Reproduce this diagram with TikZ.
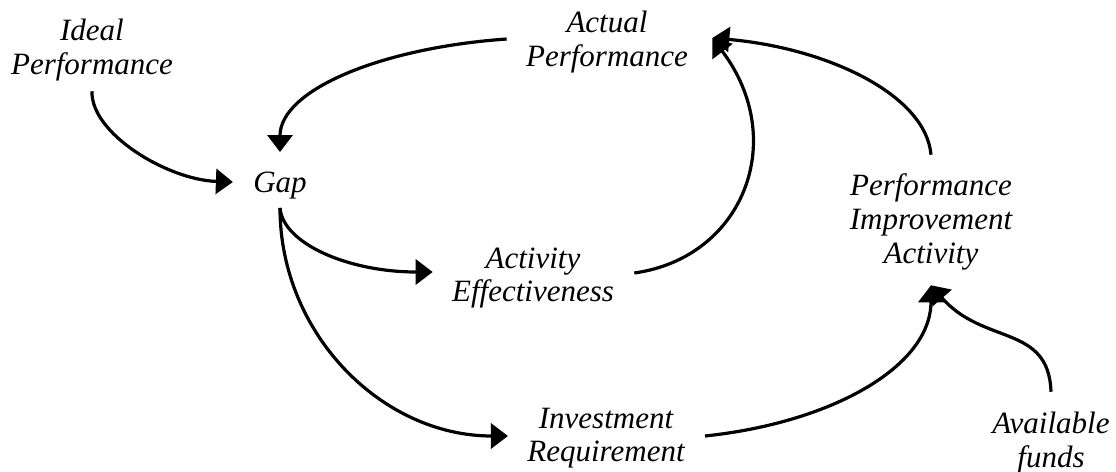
\documentclass[tikz,border=0pt]{standalone}
\usepackage{fontspec}
\setmainfont{Liberation Serif}
\usetikzlibrary{arrows.meta, positioning}

\begin{document}
\begin{tikzpicture}[
    x=0.5pt, y=0.5pt,
    term/.style={align=center, inner sep=0pt,
    font=\fontsize{15.5pt}{16.8pt}\selectfont\itshape},
    link/.style={line width=1.6pt,
    -{Triangle[length=8.5pt, width=12.5pt]}}
    ]
    \useasboundingbox (0,0) rectangle (1116,-472);

    \node[term]  (ideal)   at (92,-50)     {Ideal\\Performance};
    \node[term]  (gap)     at (280,-186)   {Gap};
    \node[term]  (actual)  at (607,-42)    {Actual\\Performance};
    \node[term]  (ae)      at (533,-278)   {Activity\\Effectiveness};
    \node[term]  (inv)     at (606,-438)   {Investment\\Requirement};
    \node[term]  (pia)     at (931,-222)   {Performance\\Improvement\\Activity};
    \node[term]  (funds)   at (1051,-443)  {Available\\funds};

    \path[link]
    ([yshift=-5pt]ideal.south)
        edge[out=-92, in=178, out distance=21pt, in distance=33pt]
        ([xshift=-10pt, yshift=2pt]gap.west)
    ([xshift=-9.5pt, yshift=1.5pt]actual.west)
        edge[out=184, in=90, out distance=63pt, in distance=31pt]
        ([yshift=10pt]gap.north)
    ([yshift=-4pt]gap.south)
        edge[out=-85, in=180, out distance=18pt, in distance=42pt]
        ([xshift=-9.5pt, yshift=3pt]ae.west)
    ([yshift=-4pt]gap.south)
        edge[out=-90, in=180, out distance=63pt, in distance=63pt]
        ([xshift=-9.5pt, yshift=1pt]inv.west)
    ([xshift=10pt, yshift=2.5pt]ae.east)
        edge[out=8, in=-53, out distance=55pt, in distance=64pt]
        ([xshift=12pt, yshift=2pt]actual.east)
    ([yshift=9.5pt]pia.north)
        edge[out=95, in=-5, out distance=30pt, in distance=58pt]
        ([xshift=12pt, yshift=2pt]actual.east)
    ([xshift=10pt, yshift=1pt]inv.east)
        edge[out=6, in=-90, out distance=63pt, in distance=41pt]
        ([yshift=-7.5pt]pia.south)
    ([yshift=10pt]funds.north)
        edge[out=92, in=-49, out distance=34pt, in distance=40pt]
        ([yshift=-7.5pt]pia.south)
    ;
\end{tikzpicture}
\end{document}
